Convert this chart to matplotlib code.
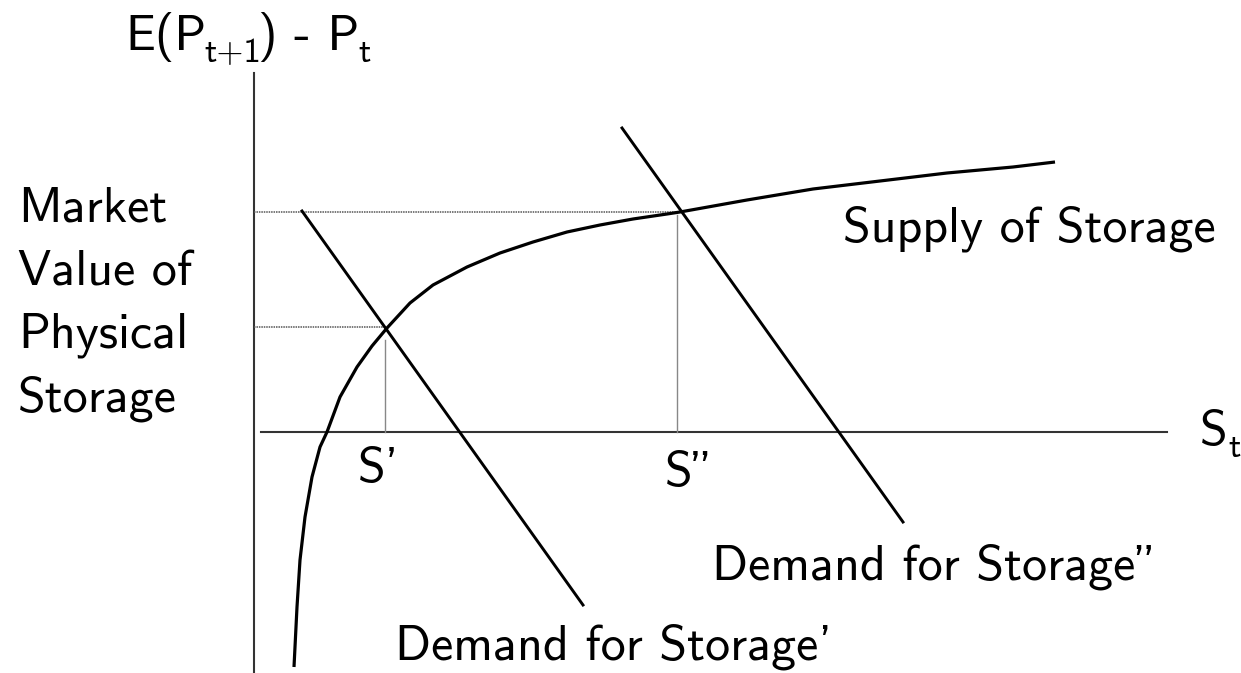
import numpy as np
import matplotlib
matplotlib.use("Agg")
import matplotlib.pyplot as plt

plt.rcParams['font.family'] = ['cmss10', 'DejaVu Sans']
plt.rcParams['axes.unicode_minus'] = False

# storage (x) and E(P_t+1) - P_t (y), origin where the two axes cross
supply_x = [40, 43, 46, 51, 58, 66, 73, 86, 103, 118, 133, 156, 179, 213, 246, 279, 313,
            346, 379, 413, 426, 493, 559, 626, 693, 759, 801]
supply_y = [-235, -175, -128, -85, -45, -15, 0, 35, 65, 86, 104, 129, 147, 165, 179, 190, 200,
            207, 213, 218, 220, 232, 243, 251, 259, 265, 270]

demand1_x = [48, 329]
demand1_y = [221, -173]
demand2_x = [368, 649]
demand2_y = [304, -90]

# equilibria
s1 = (131, 105)
s2 = (423, 220)

fig = plt.figure(figsize=(12.41, 6.73), dpi=100)
ax = fig.add_axes([0, 0, 1, 1])
ax.set_xlim(-254, 987)
ax.set_ylim(-241, 432)
ax.axis('off')

# axes of the diagram
ax.plot([0, 0], [-241, 359], color='#333333', lw=1.5)
ax.plot([7, 913], [0, 0], color='#333333', lw=1.5)

# guide lines
ax.plot([0, s1[0]], [s1[1], s1[1]], color='#555555', lw=1.1, ls=(0, (1, 0.6)))
ax.plot([0, s2[0]], [s2[1], s2[1]], color='#555555', lw=1.1, ls=(0, (1, 0.6)))
ax.plot([s1[0], s1[0]], [0, s1[1] - 13], color='#888888', lw=1.0)
ax.plot([s2[0], s2[0]], [0, s2[1] - 3], color='#888888', lw=1.0)

ax.plot(supply_x, supply_y, color='black', lw=2.3, solid_capstyle='butt', solid_joinstyle='round')
ax.plot(demand1_x, demand1_y, color='black', lw=2.1)
ax.plot(demand2_x, demand2_y, color='black', lw=2.1)

fs = 36
sub = 25
# y-axis title with subscripts
ax.text(-129, 382, 'E(P', fontsize=fs, va='baseline')
ax.text(-50, 370, 't+1', fontsize=sub, va='baseline')
ax.text(4, 382, ') - P', fontsize=fs, va='baseline')
ax.text(104, 370, 't', fontsize=sub, va='baseline')

for i, line in enumerate(['Market', 'Value of', 'Physical', 'Storage']):
    ax.text(-236, 210 - 63 * i, line, fontsize=fs, va='baseline')
ax.text(589, 190, 'Supply of Storage', fontsize=fs, va='baseline')
ax.text(946, -13, 'S', fontsize=fs, va='baseline')
ax.text(974, -25, 't', fontsize=sub, va='baseline')
ax.text(104, -50, "S'", fontsize=fs, va='baseline')
ax.text(411, -54, 'S"', fontsize=fs, va='baseline')
ax.text(141, -228, "Demand for Storage'", fontsize=fs, va='baseline')
ax.text(458, -148, 'Demand for Storage"', fontsize=fs, va='baseline')

fig.savefig('out.png', dpi=100)
